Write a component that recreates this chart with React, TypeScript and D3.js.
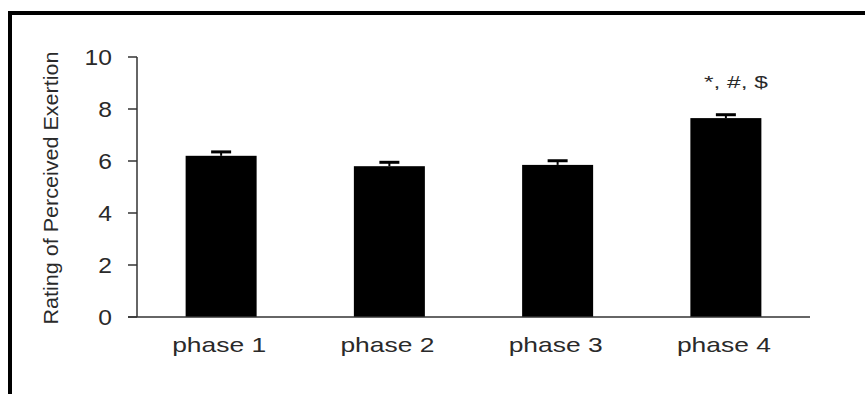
import React from "react";
import * as d3 from "d3";

const categories = ["phase 1", "phase 2", "phase 3", "phase 4"];
const values = [6.2, 5.8, 5.85, 7.65];
const errors = [0.15, 0.15, 0.16, 0.13];
const yTicks = [0, 2, 4, 6, 8, 10];
const annotations = ["", "", "", "*, #, $"];
const yTitle = "Rating of Perceived Exertion";

const W = 865;
const H = 394;
const left = 137;
const right = 810;
const top = 57;
const bottom = 317;

export default function App() {
  const x = d3
    .scaleBand<string>()
    .domain(categories)
    .range([left, right])
    .paddingInner(0.578)
    .paddingOuter(0.289);
  const y = d3.scaleLinear().domain([0, 10]).range([bottom, top]);
  const font = "Arial, 'Liberation Sans', sans-serif";
  const txt = "#2a2a2a";
  const axis = "#333";

  return (
    <svg
      width={W}
      height={H}
      style={{ position: "absolute", left: 0, top: 0, background: "#fff" }}
      fontFamily={font}
    >
      <rect x={0} y={0} width={W} height={H} fill="#fff" />
      {/* frame (cropped on right and bottom) */}
      <rect x={10} y={13} width={W + 40} height={H + 40} fill="none" stroke="#000" strokeWidth={4} />

      {/* bars */}
      {categories.map((c, i) => (
        <rect
          key={c}
          x={x(c)!}
          y={y(values[i])}
          width={x.bandwidth()}
          height={y(0) - y(values[i])}
          fill="#000"
        />
      ))}

      {/* error bars */}
      {categories.map((c, i) => {
        const cx = x(c)! + x.bandwidth() / 2;
        const yt = y(values[i] + errors[i]);
        return (
          <g key={c + "e"} stroke="#000">
            <line x1={cx} x2={cx} y1={y(values[i])} y2={yt} strokeWidth={2} />
            <line x1={cx - 10} x2={cx + 10} y1={yt} y2={yt} strokeWidth={3} />
          </g>
        );
      })}

      {/* annotations */}
      {categories.map((c, i) =>
        annotations[i] ? (
          <text
            key={c + "a"}
            x={x(c)! + x.bandwidth() / 2 + 10}
            y={88}
            textAnchor="middle"
            fontSize={17}
            fill={txt}
            textLength={64}
            lengthAdjust="spacingAndGlyphs"
          >
            {annotations[i]}
          </text>
        ) : null
      )}

      {/* y axis */}
      <line x1={left} x2={left} y1={top} y2={bottom} stroke={axis} strokeWidth={1.5} />
      {yTicks.map((t) => (
        <g key={t}>
          <line x1={left - 9} x2={left} y1={y(t)} y2={y(t)} stroke={axis} strokeWidth={1.5} />
          <g transform={`translate(112,${y(t)}) scale(1.12,1)`}>
            <text x={0} y={0} dy="0.36em" textAnchor="end" fontSize={22} fill={txt}>
              {t}
            </text>
          </g>
        </g>
      ))}

      {/* x axis */}
      <line x1={left - 9} x2={right} y1={bottom} y2={bottom} stroke={axis} strokeWidth={1.5} />
      {categories.map((c) => (
        <text
          key={c + "l"}
          x={x(c)! + x.bandwidth() / 2 - 2}
          y={352}
          textAnchor="middle"
          fontSize={21}
          fill={txt}
          textLength={94}
          lengthAdjust="spacingAndGlyphs"
        >
          {c}
        </text>
      ))}

      {/* y title */}
      <text
        transform={`translate(58,188) rotate(-90)`}
        textAnchor="middle"
        fontSize={20}
        fill={txt}
        textLength={273}
        lengthAdjust="spacingAndGlyphs"
      >
        {yTitle}
      </text>
    </svg>
  );
}
